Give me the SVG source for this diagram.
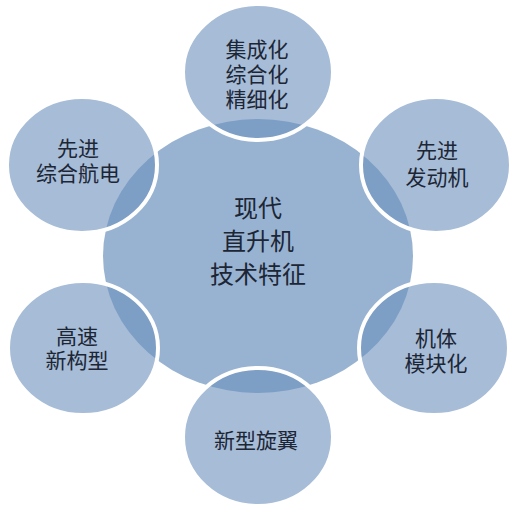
<svg xmlns="http://www.w3.org/2000/svg" width="518" height="509" viewBox="0 0 518 509">
<style>
.hub{fill:#98b3d1;}
.sat{fill:#6b8fbc;fill-opacity:0.6;stroke:#ffffff;stroke-width:4;}
text{font-family:"Noto Sans CJK SC","Noto Sans CJK JP",sans-serif;fill:#1c2635;text-anchor:middle;}
.big{font-size:24px;}
.sm{font-size:21px;}
</style>
<rect width="518" height="509" fill="#ffffff"/>
<g id="connectors"></g>
<g id="hub">
<ellipse class="hub" cx="258" cy="256" rx="155" ry="137"/>
<text class="big" x="258" y="217">现代</text>
<text class="big" x="258" y="250">直升机</text>
<text class="big" x="258" y="283">技术特征</text>
</g>
<g id="node-top">
<ellipse class="sat" cx="258" cy="72" rx="75" ry="68"/>
<text class="sm" x="257" y="57">集成化</text>
<text class="sm" x="257" y="82">综合化</text>
<text class="sm" x="257" y="107">精细化</text>
</g>
<g id="node-upper-left">
<ellipse class="sat" cx="82" cy="165" rx="75" ry="68"/>
<text class="sm" x="78" y="156">先进</text>
<text class="sm" x="78" y="181">综合航电</text>
</g>
<g id="node-upper-right">
<ellipse class="sat" cx="436" cy="165" rx="75" ry="68"/>
<text class="sm" x="437" y="158">先进</text>
<text class="sm" x="437" y="185">发动机</text>
</g>
<g id="node-lower-left">
<ellipse class="sat" cx="83" cy="348" rx="75" ry="67"/>
<text class="sm" x="77" y="344">高速</text>
<text class="sm" x="77" y="368">新构型</text>
</g>
<g id="node-lower-right">
<ellipse class="sat" cx="434" cy="348" rx="75" ry="67"/>
<text class="sm" x="436" y="346">机体</text>
<text class="sm" x="436" y="371">模块化</text>
</g>
<g id="node-bottom">
<ellipse class="sat" cx="258" cy="437" rx="75" ry="69"/>
<text class="sm" x="256" y="448">新型旋翼</text>
</g>
</svg>
